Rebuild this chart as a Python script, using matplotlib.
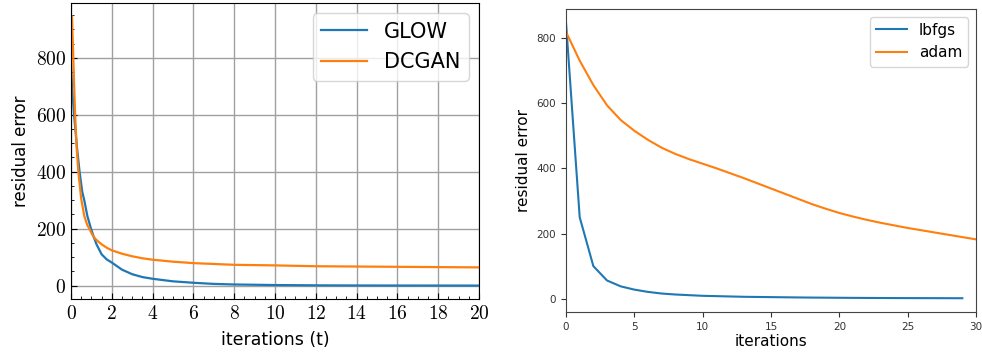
import numpy as np
import matplotlib
matplotlib.use("Agg")
import matplotlib.pyplot as plt
from matplotlib.ticker import MultipleLocator, FuncFormatter

plt.rcParams["mathtext.fontset"] = "cm"

# left panel: GLOW vs DCGAN, continuous t
t_glow = [0, 0.05, 0.1, 0.15, 0.2, 0.3, 0.42, 0.55, 0.65, 0.8, 0.98, 1.1, 1.25,
          1.5, 1.75, 2, 2.5, 3, 3.5, 4, 5, 6, 7, 8, 10, 12, 14, 16, 18, 20]
glow = [780, 700, 650, 600, 560, 480, 400, 330, 300, 245, 200, 174, 145,
        110, 92, 81, 56, 40, 30, 24, 15, 10, 6, 4, 2, 1, 0.5, 0.3, 0.2, 0.1]

t_dcgan = [0.05, 0.1, 0.15, 0.2, 0.28, 0.36, 0.5, 0.65, 0.8, 0.9, 1.0, 1.1, 1.25,
           1.5, 1.75, 2, 2.5, 3, 3.5, 4, 5, 6, 7, 8, 10, 12, 14, 16, 18, 20]
dcgan = [945, 830, 710, 605, 480, 400, 305, 245, 212, 200, 185, 172, 160,
         145, 133, 124, 112, 103, 96, 91, 84, 79, 76, 73, 71, 68, 67, 66, 65, 64]

# right panel: lbfgs vs adam per iteration
it_lbfgs = list(range(30))
lbfgs = [846, 250, 100, 56, 38, 28, 21, 16, 13, 11, 9, 8, 7, 6, 5.5, 5, 4.5, 4,
         3.6, 3.3, 3, 2.7, 2.5, 2.3, 2.1, 2, 1.9, 1.8, 1.7, 1.6]
it_adam = list(range(31))
adam = [818, 730, 655, 593, 548, 515, 487, 463, 444, 428, 414, 400, 385, 370,
        354, 338, 322, 306, 290, 276, 263, 252, 242, 233, 225, 217, 210, 203,
        196, 189, 182]

fig = plt.figure(figsize=(9.82, 3.56), dpi=100)

# ---- left
ax1 = fig.add_axes([0.0723, 0.160, 0.4155, 0.8315])
ax1.plot(t_glow, glow, color="tab:blue", lw=1.6, label="GLOW")
ax1.plot(t_dcgan, dcgan, color="tab:orange", lw=1.6, label="DCGAN")
ax1.set_xlim(0, 20)
ax1.xaxis.set_major_locator(MultipleLocator(2))
ax1.xaxis.set_minor_locator(MultipleLocator(0.5))
ax1.yaxis.set_major_locator(MultipleLocator(200))
ax1.yaxis.set_minor_locator(MultipleLocator(50))
cm_fmt = FuncFormatter(lambda v, p: r"$%d$" % round(v))
ax1.xaxis.set_major_formatter(cm_fmt)
ax1.yaxis.set_major_formatter(cm_fmt)
ax1.tick_params(which="both", direction="in", labelsize=14)
ax1.tick_params(which="major", length=4)
ax1.tick_params(which="minor", length=2.5)
ax1.grid(True, which="major", color="#a0a0a0", lw=1)
ax1.set_axisbelow(True)
ax1.set_xlabel("iterations (t)", fontsize=12.5, labelpad=6)
ax1.set_ylabel("residual error", fontsize=12, labelpad=4)
ax1.legend(loc="upper right", fontsize=15, handlelength=2.2)

# ---- right
ax2 = fig.add_axes([0.5764, 0.1236, 0.4175, 0.851])
ax2.plot(it_lbfgs, lbfgs, color="tab:blue", lw=1.5, label="lbfgs")
ax2.plot(it_adam, adam, color="tab:orange", lw=1.5, label="adam")
ax2.set_xlim(0, 30)
for s in ax2.spines.values():
    s.set_color("#444444")
ax2.tick_params(labelsize=7.5, colors="#333333")
ax2.set_xlabel("iterations", fontsize=11, labelpad=2)
ax2.set_ylabel("residual error", fontsize=11)
ax2.legend(loc="upper right", fontsize=11)

fig.savefig("out.png", dpi=100)
